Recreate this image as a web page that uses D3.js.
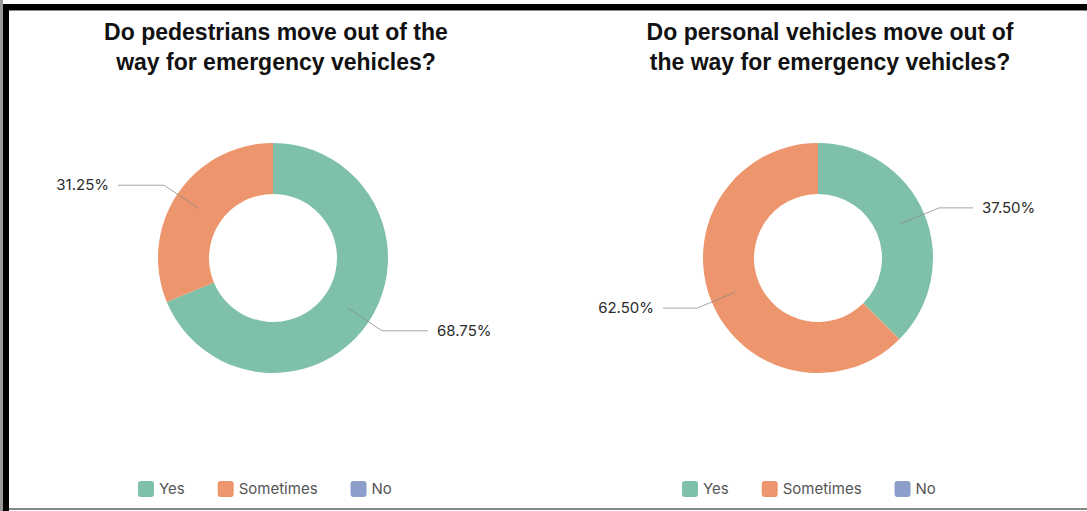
<!DOCTYPE html>
<html>
<head>
<meta charset="utf-8">
<script src="https://cdn.jsdelivr.net/npm/d3@7"></script>
<style>
  html, body { margin: 0; padding: 0; background: #fff; }
  svg { display: block; }
  .chart-title { font-family: "Liberation Sans", Arial, sans-serif; font-weight: bold; font-size: 23px; fill: #111; }
  .slice-label { font-family: Inter, "Noto Sans", sans-serif; font-size: 15px; fill: #2b2b2b; }
  .legend-label { font-family: Inter, "Noto Sans", sans-serif; font-size: 15px; fill: #555; }
</style>
</head>
<body>
<script>
  // categories + series (percentages)
  var categories = ["Yes", "Sometimes", "No"];
  var colors = ["#7fc1a8", "#ed956c", "#8c9dc9"];
  var pedestrianValues = [68.75, 31.25, 0];
  var vehicleValues = [37.5, 62.5, 0];
  var titles = [
    ["Do pedestrians move out of the", "way for emergency vehicles?"],
    ["Do personal vehicles move out of", "the way for emergency vehicles?"]
  ];

  var width = 1087, height = 511;
  var svg = d3.select("body").append("svg")
    .attr("width", width)
    .attr("height", height);

  // frame (screenshot border)
  svg.append("rect").attr("x", 0).attr("y", 0).attr("width", 3).attr("height", height).attr("fill", "#999");
  svg.append("rect").attr("x", 3).attr("y", 4).attr("width", width - 3).attr("height", 6).attr("fill", "#000");
  svg.append("rect").attr("x", 3).attr("y", 4).attr("width", 6).attr("height", height - 4).attr("fill", "#000");
  svg.append("rect").attr("x", 9).attr("y", 10).attr("width", width - 9).attr("height", 1).attr("fill", "#888");
  svg.append("rect").attr("x", 9).attr("y", 508).attr("width", width - 9).attr("height", 2).attr("fill", "#888");

  var panels = [
    { values: pedestrianValues, title: titles[0], cx: 273, tx: 276, legendX: 138 },
    { values: vehicleValues, title: titles[1], cx: 818, tx: 830, legendX: 682 }
  ];

  var cy = 258;
  var innerR = 64, outerR = 115;
  var labelR = 90, elbowR = 131, lineEnd = 155, textGap = 9;

  var pie = d3.pie().sort(null).value(function (d) { return d; });
  var arc = d3.arc().innerRadius(innerR).outerRadius(outerR);
  var fmt = d3.format(".2f");

  panels.forEach(function (p) {
    var g = svg.append("g");

    // title:
    var title = g.append("text")
      .attr("class", "chart-title")
      .attr("text-anchor", "middle")
      .attr("x", p.tx);
    p.title.forEach(function (line, i) {
      title.append("tspan").attr("x", p.tx).attr("y", 40 + i * 30).text(line);
    });

    // donut:
    var donutG = g.append("g").attr("transform", "translate(" + p.cx + "," + cy + ")");
    var arcs = pie(p.values).filter(function (d) { return d.value > 0; });
    donutG.selectAll("path.slice")
      .data(arcs)
      .enter().append("path")
      .attr("class", "slice")
      .attr("d", arc)
      .attr("fill", function (d) { return colors[d.index]; });

    // leader lines + labels:
    arcs.forEach(function (d) {
      var a = (d.startAngle + d.endAngle) / 2;
      var sx = Math.sin(a), sy = -Math.cos(a);
      var side = sx >= 0 ? 1 : -1;
      var pts = [
        [labelR * sx, labelR * sy],
        [elbowR * sx, elbowR * sy],
        [side * lineEnd, elbowR * sy]
      ];
      donutG.append("path")
        .attr("d", d3.line()(pts))
        .attr("fill", "none")
        .attr("stroke", "#8a8a8a")
        .attr("stroke-opacity", 0.75)
        .attr("stroke-width", 1);
      donutG.append("text")
        .attr("class", "slice-label")
        .attr("x", side * (lineEnd + textGap))
        .attr("y", elbowR * sy)
        .attr("dy", "0.35em")
        .attr("text-anchor", side > 0 ? "start" : "end")
        .text(fmt(d.value) + "%");
    });

    // legend:
    var legendG = g.append("g").attr("transform", "translate(" + p.legendX + ",481)");
    var lx = 0;
    categories.forEach(function (c, i) {
      var itemG = legendG.append("g").attr("transform", "translate(" + lx + ",0)");
      itemG.append("rect")
        .attr("width", 16).attr("height", 16)
        .attr("rx", 3).attr("ry", 3)
        .attr("fill", colors[i]);
      var t = itemG.append("text")
        .attr("class", "legend-label")
        .attr("x", 21)
        .attr("y", 8)
        .attr("dy", "0.35em")
        .text(c);
      lx += 21 + t.node().getComputedTextLength() + 33;
    });
  });
</script>
</body>
</html>
